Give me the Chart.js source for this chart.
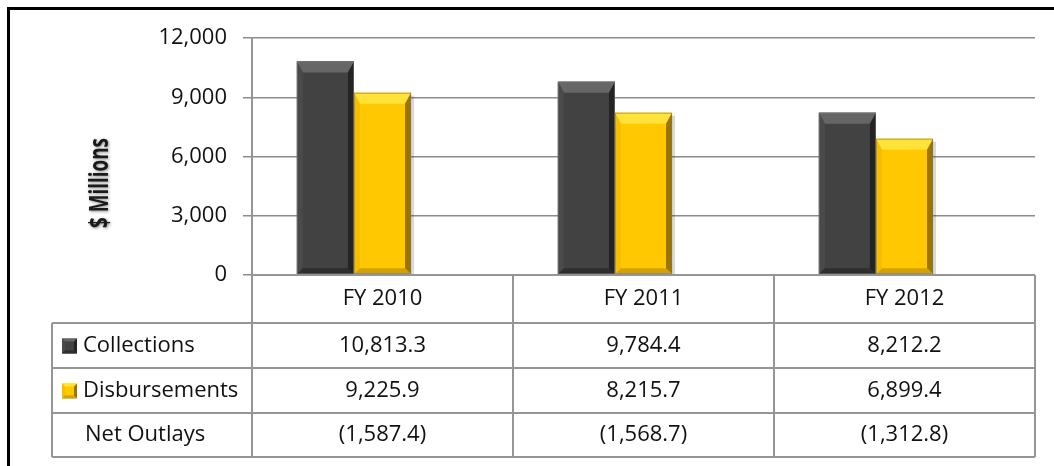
<!DOCTYPE html>
<html>
<head>
<meta charset="utf-8">
<script src="https://cdn.jsdelivr.net/npm/chart.js@4.4.1/dist/chart.umd.min.js"></script>
<style>
  html, body { margin: 0; padding: 0; background: #fff; }
</style>
</head>
<body>
<canvas id="grafico" width="1054" height="466"></canvas>
<script>
// values in $ millions, one entry per fiscal year
const anos = ['FY 2010', 'FY 2011', 'FY 2012'];
const collections = [10813.3, 9784.4, 8212.2];
const disbursements = [9225.9, 8215.7, 6899.4];
const netOutlays = [-1587.4, -1568.7, -1312.8];
const series = ['Collections', 'Disbursements', 'Net Outlays'];

const FONTE = '"Open Sans", "Noto Sans", sans-serif';
const LINHA = '#959595';

// 10813.3 -> "10,813.3", negatives go in parentheses
function formataValor(valor) {
    const partes = Math.abs(valor).toFixed(1).split('.');
    const texto = partes[0].replace(/\B(?=(\d{3})+(?!\d))/g, ',') + '.' + partes[1];
    return valor < 0 ? '(' + texto + ')' : texto;
}

const coresBarra = {
    dark: { base: '#424242', topo: '#666666', esq: '#4a4a4a', dir: '#242424', baixo: '#2e2e2e' },
    gold: { base: '#ffc800', topo: '#ffe23a', esq: '#f5bf00', dir: '#9c7400', baixo: '#d3a200' }
};

function poligono(ctx, pontos, cor) {
    ctx.beginPath();
    ctx.moveTo(pontos[0][0], pontos[0][1]);
    for (let i = 1; i < pontos.length; i++) ctx.lineTo(pontos[i][0], pontos[i][1]);
    ctx.closePath();
    ctx.fillStyle = cor;
    ctx.fill();
}

// bevelled block: flat face plus four sloped edges
function chanfro(ctx, x0, y0, x1, y1, cores, bt, bs) {
    bt = Math.min(bt, (y1 - y0) / 2);
    bs = Math.min(bs, (x1 - x0) / 3);
    poligono(ctx, [[x0, y0], [x1, y0], [x1, y1], [x0, y1]], cores.base);
    poligono(ctx, [[x0, y0], [x1, y0], [x1 - bs, y0 + bt], [x0 + bs, y0 + bt]], cores.topo);
    poligono(ctx, [[x0, y0], [x0 + bs, y0 + bt], [x0 + bs, y1 - bs], [x0, y1]], cores.esq);
    poligono(ctx, [[x1, y0], [x1, y1], [x1 - bs, y1 - bs], [x1 - bs, y0 + bt]], cores.dir);
    poligono(ctx, [[x0, y1], [x0 + bs, y1 - bs], [x1 - bs, y1 - bs], [x1, y1]], cores.baixo);
}

const pluginQuadro = {
    id: 'quadro',
    beforeDraw(chart) {
        const ctx = chart.ctx;
        ctx.save();
        ctx.fillStyle = '#fff';
        ctx.fillRect(0, 0, chart.width, chart.height);
        // outer frame, only left and top edges fall inside the canvas
        ctx.strokeStyle = '#000';
        ctx.lineWidth = 3;
        ctx.beginPath();
        ctx.moveTo(8.5, chart.height);
        ctx.lineTo(8.5, 8.5);
        ctx.lineTo(chart.width, 8.5);
        ctx.stroke();
        ctx.restore();
    },
    afterDatasetsDraw(chart) {
        const ctx = chart.ctx;
        ctx.save();
        ctx.beginPath();
        ctx.rect(chart.chartArea.left, chart.chartArea.top, chart.chartArea.right - chart.chartArea.left, chart.chartArea.bottom - chart.chartArea.top);
        ctx.clip();
        [0, 1].forEach(d => {
            const cores = d === 0 ? coresBarra.dark : coresBarra.gold;
            chart.getDatasetMeta(d).data.forEach(bar => {
                const p = bar.getProps(['x', 'y', 'base', 'width'], true);
                const x0 = p.x - p.width / 2, x1 = p.x + p.width / 2;
                if (d === 1) {
                    // soft shadow on the right of the gold bars
                    ctx.fillStyle = 'rgba(0,0,0,0.15)';
                    ctx.fillRect(x1, p.y + 3, 3, p.base - p.y - 3);
                }
                chanfro(ctx, x0, p.y, x1, p.base, cores, 11, 6);
                ctx.strokeStyle = 'rgba(120,120,120,0.6)';
                ctx.lineWidth = 1;
                ctx.strokeRect(x0 + 0.5, p.y + 0.5, x1 - x0 - 1, p.base - p.y - 1);
            });
        });
        ctx.restore();
    },
    afterDraw(chart) {
        const ctx = chart.ctx;
        const area = chart.chartArea;
        const xScale = chart.scales.x;
        const col = (area.right - area.left) / anos.length;
        const esquerda = 52;
        const linhas = [area.bottom, area.bottom + 48, area.bottom + 93, area.bottom + 138, area.bottom + 182];

        ctx.save();
        ctx.strokeStyle = LINHA;
        ctx.lineWidth = 2;
        ctx.beginPath();
        // y axis continues down through the table
        ctx.moveTo(area.left, area.top);
        ctx.lineTo(area.left, linhas[4]);
        for (let i = 1; i <= anos.length; i++) {
            const x = area.left + col * i;
            ctx.moveTo(x, linhas[0]);
            ctx.lineTo(x, linhas[4]);
        }
        ctx.moveTo(area.left, linhas[0]);
        ctx.lineTo(area.right, linhas[0]);
        for (let r = 1; r < linhas.length; r++) {
            ctx.moveTo(esquerda, linhas[r]);
            ctx.lineTo(area.right, linhas[r]);
        }
        ctx.moveTo(esquerda, linhas[1]);
        ctx.lineTo(esquerda, linhas[4]);
        ctx.stroke();

        ctx.fillStyle = '#111';
        ctx.font = '22px ' + FONTE;
        ctx.textBaseline = 'middle';
        ctx.textAlign = 'center';
        const valores = [collections, disbursements, netOutlays];
        anos.forEach((ano, i) => {
            const x = xScale.getPixelForValue(i);
            ctx.fillText(ano, x, (linhas[0] + linhas[1]) / 2);
            valores.forEach((serie, r) => {
                ctx.fillText(formataValor(serie[i]), x, (linhas[r + 1] + linhas[r + 2]) / 2);
            });
        });

        // row headers with the small series keys
        ctx.textAlign = 'left';
        series.forEach((nome, r) => {
            const y = (linhas[r + 1] + linhas[r + 2]) / 2;
            if (r < 2) {
                chanfro(ctx, 62, y - 7, 77, y + 8, r === 0 ? coresBarra.dark : coresBarra.gold, 3, 3);
                ctx.fillStyle = '#111';
                ctx.fillText(nome, 83, y);
            } else {
                ctx.fillText(nome, 85, y);
            }
        });

        // rotated axis title, narrow and slightly soft
        ctx.save();
        ctx.translate(100, 183);
        ctx.rotate(-Math.PI / 2);
        ctx.font = 'bold 27px ' + FONTE;
        const largura = ctx.measureText('$ Millions').width;
        ctx.scale(90 / largura, 1);
        ctx.textAlign = 'center';
        ctx.filter = 'blur(0.7px)';
        ctx.shadowColor = 'rgba(0,0,0,0.45)';
        ctx.shadowBlur = 3;
        ctx.shadowOffsetX = 1;
        ctx.shadowOffsetY = 1;
        ctx.fillStyle = '#1a1a1a';
        ctx.fillText('$ Millions', 0, 0);
        ctx.restore();
        ctx.restore();
    }
};

const grafico = new Chart(document.getElementById('grafico'), {
    type: 'bar',
    data: {
        labels: anos,
        datasets: [
            { label: series[0], data: collections, backgroundColor: coresBarra.dark.base },
            { label: series[1], data: disbursements, backgroundColor: coresBarra.gold.base },
            { label: series[2], data: netOutlays, backgroundColor: 'rgba(0,0,0,0)' }
        ]
    },
    options: {
        responsive: false,
        animation: false,
        datasets: { bar: { categoryPercentage: 0.656, barPercentage: 1 } },
        layout: { padding: { top: 38, right: 19, bottom: 191, left: 0 } },
        plugins: { legend: { display: false }, tooltip: { enabled: false } },
        scales: {
            x: { display: false },
            y: {
                min: 0,
                max: 12000,
                ticks: {
                    stepSize: 3000,
                    padding: 16,
                    color: '#111',
                    font: { family: FONTE, size: 22 },
                    callback: v => v.toLocaleString('en-US')
                },
                grid: { color: '#8c8c8c', lineWidth: 1.5, tickLength: 9 },
                border: { color: LINHA, width: 2 },
                afterFit(scale) { scale.width = 252; }
            }
        }
    },
    plugins: [pluginQuadro]
});
</script>
</body>
</html>
